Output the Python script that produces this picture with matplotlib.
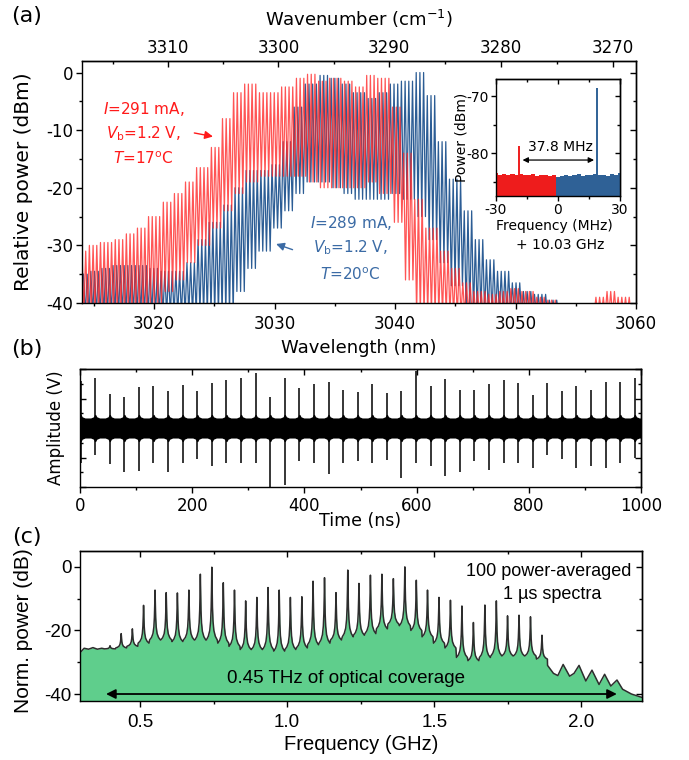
import matplotlib
matplotlib.use("Agg")
import matplotlib.pyplot as plt
import numpy as np
from matplotlib.ticker import MultipleLocator, NullFormatter

plt.rcParams['font.family'] = 'DejaVu Sans'
plt.rcParams['axes.unicode_minus'] = False
plt.rcParams['axes.linewidth'] = 1.0
for a in ('xtick', 'ytick'):
    plt.rcParams[a + '.major.size'] = 4.5
    plt.rcParams[a + '.minor.size'] = 2.5
    plt.rcParams[a + '.major.width'] = 1.0
    plt.rcParams[a + '.minor.width'] = 1.0

# ---- (a) optical spectra: mode peak / valley levels read every 1 nm, 3014..3060 nm
wl_start = 3014
mode_nm = 0.307  # 10.03 GHz comb spacing at ~3.03 um
red_top = [-31, -30, -29.5, -29, -28, -27, -25, -22.5, -21, -19,
           -16.5, -13, -8, -3.5, -2, -3.5, -3.5, -2.5, -1, -0.3,
           -1.5, -1, -1.5, -2.5, -0.5, -1, -6, -14, -22, -27,
           -31, -34, -36.5, -38, -38.5, -38, -37.5, -38, -39, -39.5,
           -40.5, -41, -41, -39, -38, -39, -42]
red_bot = [-42, -42, -42, -42, -42, -42, -40, -38, -36, -33,
           -30, -27, -24, -21, -19, -18, -18, -18, -18, -19,
           -20, -20, -20, -20, -19, -21, -26, -36, -42, -42,
           -42, -42, -42, -42, -42, -42, -42, -42, -42, -42,
           -42, -42, -42, -42, -42, -42, -42]
blue_top = [-35, -34.5, -34, -33.5, -33.5, -33.5, -34, -34.5, -34.5, -33,
            -29, -26, -23, -20, -17, -17, -16, -12, -6, -2,
            -0.5, -1, -2, -3.5, -4.5, -3.5, -2, -1.5, 0, -4,
            -12, -18.5, -24, -29, -32.5, -34.5, -36.5, -38, -38.5, -39.5,
            -40.5, -42, -42, -42, -42, -42, -42]
blue_bot = [-42, -42, -42, -42, -42, -42, -42, -42, -42, -42,
            -42, -42, -42, -38, -34, -31, -27, -24, -21, -19,
            -19, -20, -21, -22, -22, -22, -21, -22, -25, -29,
            -33, -37, -42, -42, -42, -42, -42, -42, -42, -42,
            -42, -42, -42, -42, -42, -42, -42]

# inset: RF beat notes (MHz offset from 10.03 GHz)
beat_freq = [-30, -28, -26, -24, -22, -20, -18, -16, -14, -12, -10, -8, -6, -4, -2,
             0, 2, 4, 6, 8, 10, 12, 14, 16, 18, 20, 22, 24, 26, 28, 30]
beat_floor = [-83.5, -83.8, -83.6, -83.9, -83.7, -83.8, -83.6, -83.9, -83.8, -83.7,
              -84.0, -83.8, -83.9, -84.0, -83.8, -84.1, -84.0, -83.8, -84.0, -83.9,
              -83.7, -84.0, -83.8, -83.9, -83.6, -83.9, -83.8, -84.0, -83.7, -83.9, -83.5]
red_beat_f, red_beat_db = -18.8, -78.7
blue_beat_f, blue_beat_db = 19.1, -68.5

# ---- (b) interferogram bursts
burst_t = [1, 27, 53, 79, 105, 131, 157, 183, 209, 235, 261, 287, 313, 339, 365,
           391, 417, 443, 469, 495, 521, 547, 573, 599, 625, 651, 677, 703, 729, 755,
           781, 807, 833, 859, 885, 911, 937, 963, 989]
burst_up = [0.79, 0.85, 0.57, 0.52, 0.70, 0.71, 0.63, 0.73, 0.62, 0.77, 0.82, 0.85, 0.93,
            0.53, 0.85, 0.67, 0.75, 0.78, 0.64, 0.61, 0.75, 0.60, 0.62, 0.96, 0.72, 0.83,
            0.64, 0.64, 0.75, 0.82, 0.76, 0.56, 0.76, 0.62, 0.71, 0.64, 0.78, 0.78, 0.84]
burst_dn = [-0.60, -0.45, -0.61, -0.74, -0.73, -0.60, -0.74, -0.60, -0.53, -0.64, -0.60,
            -0.60, -0.60, -1.00, -0.96, -0.56, -0.60, -0.78, -0.60, -0.56, -0.60, -0.54,
            -0.85, -0.60, -0.64, -0.82, -0.75, -0.56, -0.71, -0.60, -0.60, -0.67, -0.45,
            -0.53, -0.67, -0.64, -0.67, -0.59, -0.51]

# ---- (c) RF spectrum
rf_peak_ghz = [0.398, 0.436, 0.474, 0.512, 0.551, 0.589, 0.627, 0.666, 0.705, 0.744,
               0.783, 0.821, 0.859, 0.897, 0.935, 0.973, 1.011, 1.050, 1.088, 1.127,
               1.166, 1.206, 1.244, 1.283, 1.322, 1.361, 1.400, 1.439, 1.477, 1.516,
               1.555, 1.594, 1.633, 1.672, 1.711, 1.749, 1.788, 1.827, 1.866]
rf_peak_db = [-24.8, -21.0, -19.5, -12.1, -7.3, -8.1, -8.2, -7.3, -2.3, -0.1,
              -5.0, -7.3, -10.7, -9.6, -6.5, -7.3, -9.6, -9.4, -4.5, -3.4,
              -8.1, -1.0, -5.2, -2.6, -2.3, -3.7, 0.0, -4.2, -7.3, -9.6,
              -10.5, -12.3, -17.5, -12.0, -10.7, -15.4, -15.2, -15.7, -21.5]
rf_base_db = [-25.8, -25.5, -25.0, -24.0, -23.0, -23.0, -23.5, -23.0, -23.0, -23.0,
              -24.0, -25.0, -26.0, -26.0, -26.0, -26.5, -26.0, -25.5, -24.5, -24.0,
              -23.0, -22.0, -21.5, -21.0, -19.5, -18.0, -18.5, -20.0, -22.0, -24.0,
              -25.5, -28.5, -29.5, -28.5, -28.0, -28.0, -28.0, -28.0, -29.0]
rf_head_ghz = [0.296, 0.31, 0.325, 0.34, 0.355, 0.37]
rf_head_db = [-27.0, -25.6, -25.9, -25.4, -25.9, -25.6]
rf_tail_ghz = [1.885, 1.905, 1.92, 1.938, 1.96, 1.975, 1.992, 2.015, 2.036, 2.06,
               2.079, 2.10, 2.121, 2.14, 2.17, 2.21]
rf_tail_db = [-31.0, -33.5, -34.2, -30.7, -34.4, -33.5, -31.0, -35.9, -32.5, -37.0,
              -33.8, -37.5, -35.6, -38.5, -40.0, -41.2]
# line shape of one comb tooth (offset in GHz, fraction of height above floor)
line_dx = [-0.0185, -0.012, -0.007, -0.004, -0.0022, -0.001, 0, 0.001, 0.0022, 0.004, 0.007, 0.012, 0.0185]
line_frac = [0, 0.05, 0.13, 0.26, 0.45, 0.7, 1, 0.7, 0.45, 0.26, 0.13, 0.05, 0]

RED = '#ff2a2a'
BLUE = '#2c5d95'
W, H = 689.0, 760.0


def box(left, top, right, bottom):
    return [left / W, 1 - bottom / H, (right - left) / W, (bottom - top) / H]


def inner_ticks(ax, side, major, minor):
    if side in ('top', 'bottom'):
        s = ax.secondary_xaxis(side)
        axis = s.xaxis
    else:
        s = ax.secondary_yaxis(side)
        axis = s.yaxis
    axis.set_major_locator(MultipleLocator(major))
    axis.set_minor_locator(MultipleLocator(minor))
    axis.set_major_formatter(NullFormatter())
    s.tick_params(which='both', direction='in')
    return s


def comb_trace(offset, top, bot):
    modes = np.arange(wl_start + offset, 3060.6, mode_nm)
    idx = np.clip(np.round(modes - wl_start).astype(int), 0, len(top) - 1)
    x = np.column_stack([modes, modes + mode_nm / 2]).ravel()
    y = np.column_stack([np.asarray(top)[idx], np.asarray(bot)[idx]]).ravel()
    return x, y


def inv(v):
    v = np.asarray(v, dtype=float)
    with np.errstate(divide='ignore'):
        return 1e7 / v


fig = plt.figure(figsize=(6.89, 7.60), dpi=100)

# ================= (a)
ax = fig.add_axes(box(82, 61, 636, 303))
xb, yb = comb_trace(0.12, blue_top, blue_bot)
xr, yr = comb_trace(0.0, red_top, red_bot)
ax.plot(xb, yb, color=BLUE, lw=0.9)
ax.plot(xr, yr, color=RED, lw=0.9, alpha=0.8)
ax.set_xlim(3014, 3060)
ax.set_ylim(-40, 2)
ax.xaxis.set_major_locator(MultipleLocator(10))
ax.xaxis.set_minor_locator(MultipleLocator(5))
ax.yaxis.set_major_locator(MultipleLocator(10))
ax.yaxis.set_minor_locator(MultipleLocator(5))
ax.tick_params(which='both', top=False, right=False, labelsize=12)
ax.tick_params(axis='x', pad=4)
ax.tick_params(axis='y', pad=2)
ax.set_xlabel('Wavelength (nm)', fontsize=13)
ax.xaxis.set_label_coords(0.5, -0.15)
ax.set_ylabel('Relative power (dBm)', fontsize=14.5)
ax.yaxis.set_label_coords(-0.088, 0.5)
inner_ticks(ax, 'right', 10, 5)

top = ax.secondary_xaxis('top', functions=(inv, inv))
top.set_xticks([3270, 3280, 3290, 3300, 3310])
top.xaxis.set_minor_locator(MultipleLocator(5))
top.tick_params(which='both', direction='in', labelsize=12, pad=3)
top.set_xlabel('Wavenumber (cm$^{-1}$)', fontsize=13, labelpad=9)

ax.text(3019.1, -6.3, r'$I$=291 mA,', color='#ff1a1a', fontsize=11, ha='center', va='center')
ax.text(3019.1, -10.6, r'$V_\mathrm{b}$=1.2 V,', color='#ff1a1a', fontsize=11, ha='center', va='center')
ax.text(3019.1, -15.0, r'$T$=17$^\mathrm{o}$C', color='#ff1a1a', fontsize=11, ha='center', va='center')
ax.annotate('', xy=(3025.1, -11.2), xytext=(3023.1, -10.4),
            arrowprops=dict(arrowstyle='-|>', color='#ff1a1a', lw=1.0, mutation_scale=12))
ax.text(3036.3, -26.2, r'$I$=289 mA,', color='#3b6ba5', fontsize=11, ha='center', va='center')
ax.text(3036.3, -30.4, r'$V_\mathrm{b}$=1.2 V,', color='#3b6ba5', fontsize=11, ha='center', va='center')
ax.text(3036.3, -35.1, r'$T$=20$^\mathrm{o}$C', color='#3b6ba5', fontsize=11, ha='center', va='center')
ax.annotate('', xy=(3029.9, -29.6), xytext=(3031.7, -30.9),
            arrowprops=dict(arrowstyle='-|>', color='#3b6ba5', lw=1.0, mutation_scale=12))

# inset
ins = fig.add_axes(box(496, 79, 620, 196))
bf = np.asarray(beat_freq)
fl = np.asarray(beat_floor)
neg = bf < 0
ins.bar(bf[neg], fl[neg] + 95, bottom=-95, width=2.0, color='#ee1c1c', lw=0)
ins.bar(bf[~neg], fl[~neg] + 95, bottom=-95, width=2.0, color='#2f6196', lw=0)
ins.vlines(red_beat_f, -95, red_beat_db, color='#ee1c1c', lw=1.4)
ins.vlines(blue_beat_f, -95, blue_beat_db, color='#2f6196', lw=1.4)
ins.set_xlim(-30, 30)
ins.set_ylim(-87.5, -67)
ins.xaxis.set_major_locator(MultipleLocator(30))
ins.xaxis.set_minor_locator(MultipleLocator(15))
ins.yaxis.set_major_locator(MultipleLocator(10))
ins.yaxis.set_minor_locator(MultipleLocator(5))
ins.tick_params(which='both', top=False, right=False, labelsize=10, pad=1.5)
ins.tick_params(which='major', length=3.5)
ins.tick_params(which='minor', length=2)
ins.set_xlabel('Frequency (MHz)', fontsize=10)
ins.xaxis.set_label_coords(0.47, -0.2)
ins.set_ylabel('Power (dBm)', fontsize=10)
ins.yaxis.set_label_coords(-0.22, 0.5)
ins.text(0.52, -0.42, '+ 10.03 GHz', transform=ins.transAxes, fontsize=10, ha='center', va='center')
ins.annotate('', xy=(red_beat_f + 0.3, -81.2), xytext=(blue_beat_f - 0.3, -81.2),
             arrowprops=dict(arrowstyle='<|-|>', color='black', lw=0.9, mutation_scale=8))
ins.text(1.0, -78.9, '37.8 MHz', fontsize=10, ha='center', va='center')
for s in ('top', 'right'):
    t = inner_ticks(ins, s, 30 if s == 'top' else 10, 15 if s == 'top' else 5)
    t.tick_params(which='major', length=3.5)
    t.tick_params(which='minor', length=2)

# ================= (b)
axb = fig.add_axes(box(80, 369, 641, 487))
bt, bw = [0.0], [0.22]
for t0 in burst_t:
    for dt, w in zip([-8, -3, -0.8, 0.8, 3, 8], [0.17, 0.19, 0.23, 0.23, 0.19, 0.17]):
        bt.append(t0 + dt)
        bw.append(w)
bt.append(1000.0)
bw.append(0.17)
order = np.argsort(bt)
bt = np.asarray(bt)[order]
bw = np.asarray(bw)[order]
axb.fill_between(bt, bw, -bw, color='black', lw=0)
axb.vlines(burst_t, burst_dn, burst_up, color='black', lw=1.1)
axb.set_xlim(0, 1000)
axb.set_ylim(-1, 1)
axb.xaxis.set_major_locator(MultipleLocator(200))
axb.xaxis.set_minor_locator(MultipleLocator(100))
axb.yaxis.set_major_locator(MultipleLocator(0.5))
axb.yaxis.set_minor_locator(MultipleLocator(0.25))
axb.tick_params(which='both', top=False, right=False, labelsize=12, pad=3)
axb.tick_params(axis='y', which='both', direction='in', labelleft=False)
axb.set_xlabel('Time (ns)', fontsize=12.5)
axb.xaxis.set_label_coords(0.5, -0.21)
axb.set_ylabel('Amplitude (V)', fontsize=12)
axb.yaxis.set_label_coords(-0.027, 0.5)
inner_ticks(axb, 'top', 200, 100)
inner_ticks(axb, 'right', 0.5, 0.25)

# ================= (c)
axc = fig.add_axes(box(80, 551, 642, 701))
fx = list(rf_head_ghz)
fy = list(rf_head_db)
for p, pk, bs in zip(rf_peak_ghz, rf_peak_db, rf_base_db):
    for dx, fr in zip(line_dx, line_frac):
        fx.append(p + dx)
        fy.append(bs + fr * (pk - bs))
fx += rf_tail_ghz
fy += rf_tail_db
axc.fill_between(fx, fy, -50, color='#5fce8c', lw=0)
axc.plot(fx, fy, color='#2d2d2d', lw=1.1)
axc.set_xlim(0.296, 2.206)
axc.set_ylim(-42.2, 5)
axc.xaxis.set_major_locator(MultipleLocator(0.5))
axc.xaxis.set_minor_locator(MultipleLocator(0.25))
axc.yaxis.set_major_locator(MultipleLocator(20))
axc.yaxis.set_minor_locator(MultipleLocator(10))
axc.xaxis.set_major_formatter(matplotlib.ticker.FormatStrFormatter('%.1f'))
axc.tick_params(which='both', top=False, right=False, labelsize=13.5,
                labelfontfamily='Liberation Sans')
axc.tick_params(axis='x', pad=5)
axc.tick_params(axis='y', pad=1.5)
axc.set_xlabel('Frequency (GHz)', fontsize=14.5, family='Liberation Sans')
axc.xaxis.set_label_coords(0.5, -0.225)
axc.set_ylabel('Norm. power (dB)', fontsize=15, family='Liberation Sans')
axc.yaxis.set_label_coords(-0.083, 0.47)
inner_ticks(axc, 'top', 0.5, 0.25)
inner_ticks(axc, 'right', 20, 10)
axc.annotate('', xy=(0.375, -40), xytext=(2.13, -40),
             arrowprops=dict(arrowstyle='<|-|>', color='black', lw=1.3, mutation_scale=14))
axc.text(1.2, -35.1, '0.45 THz of optical coverage', fontsize=13.5, family='Liberation Sans',
         ha='center', va='center')
axc.text(1.89, -1.4, '100 power-averaged', fontsize=13, family='Liberation Sans',
         ha='center', va='center')
axc.text(1.90, -8.6, '1 \u00b5s spectra', fontsize=13, family='Liberation Sans',
         ha='center', va='center')

# panel labels
fig.text(27 / W, 1 - 16 / H, '(a)', fontsize=16, ha='center', va='center')
fig.text(27 / W, 1 - 349 / H, '(b)', fontsize=16, ha='center', va='center')
fig.text(27 / W, 1 - 537 / H, '(c)', fontsize=16, ha='center', va='center')

fig.savefig('out.png', dpi=100)
